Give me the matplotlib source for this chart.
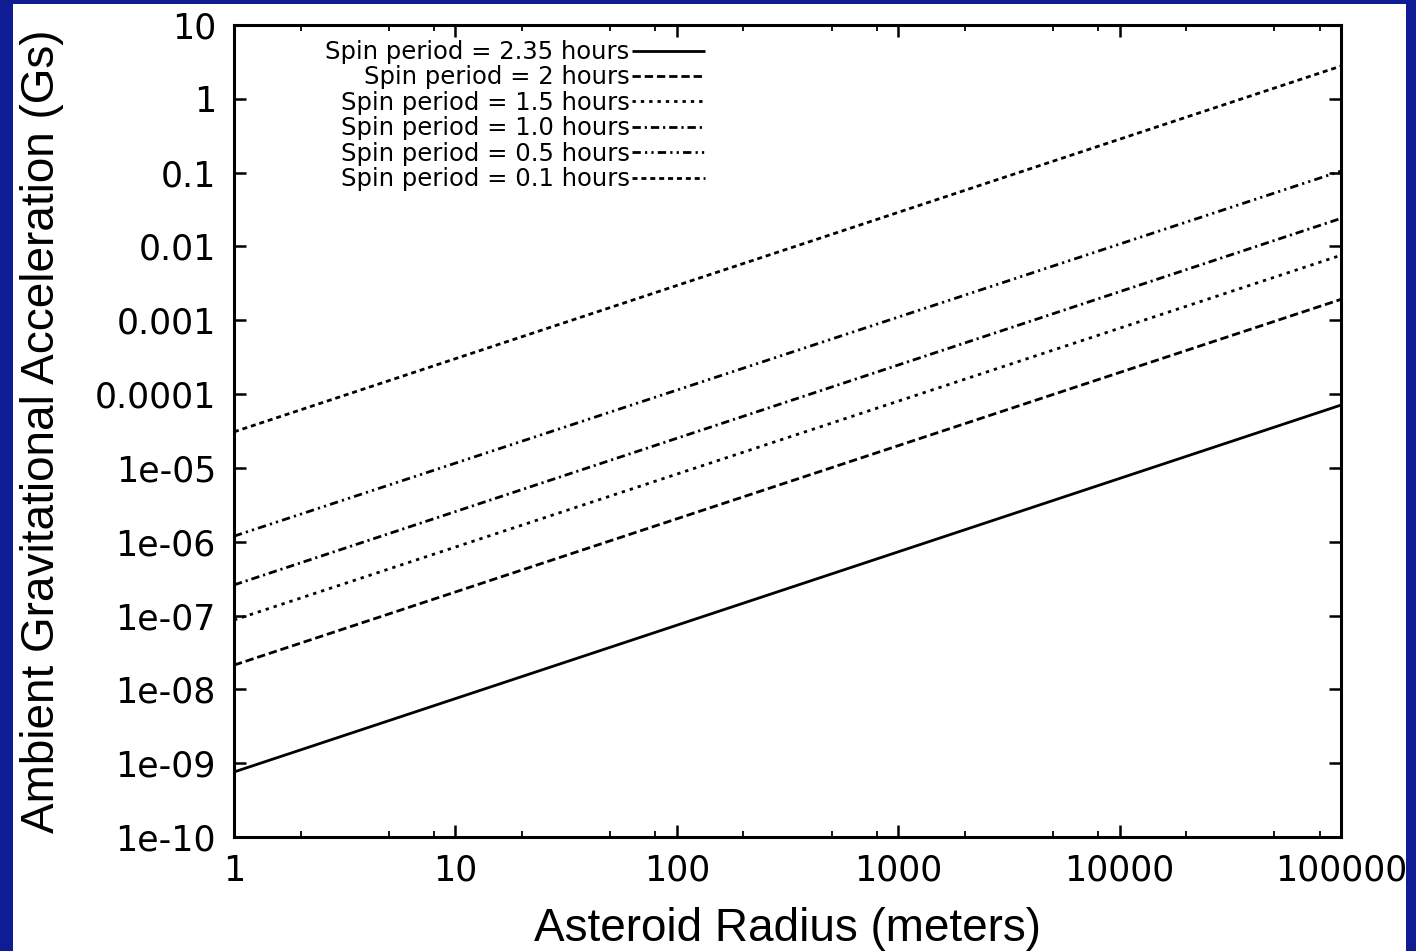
import matplotlib
matplotlib.use("Agg")
import matplotlib.pyplot as plt
from matplotlib.patches import Rectangle

# ---- data ----
radius_m = [1, 100000]
period_labels = ["Spin period = 2.35 hours", "Spin period = 2 hours",
                 "Spin period = 1.5 hours", "Spin period = 1.0 hours",
                 "Spin period = 0.5 hours", "Spin period = 0.1 hours"]
accel_p235 = [7.6e-10, 7.1e-5]
accel_p200 = [2.13e-8, 1.92e-3]
accel_p150 = [8.7e-8, 7.6e-3]
accel_p100 = [2.6e-7, 2.4e-2]
accel_p050 = [1.19e-6, 0.105]
accel_p010 = [3.08e-5, 2.78]

x_ticks = [1, 10, 100, 1000, 10000, 100000]
x_tick_labels = ["1", "10", "100", "1000", "10000", "100000"]
x_minor = [m * d for d in [1, 10, 100, 1000, 10000] for m in (2, 5, 8)]
y_ticks = [1e-10, 1e-9, 1e-8, 1e-7, 1e-6, 1e-5, 1e-4, 1e-3, 1e-2, 1e-1, 1, 10]
y_tick_labels = ["1e-10", "1e-09", "1e-08", "1e-07", "1e-06", "1e-05",
                 "0.0001", "0.001", "0.01", "0.1", "1", "10"]

series = [accel_p235, accel_p200, accel_p150, accel_p100, accel_p050, accel_p010]
dash_styles = ["-", (0, (6.0, 2.8)), (0, (2.4, 3.6)),
               (0, (6.0, 2.8, 1.6, 2.8)), (0, (6.0, 3.0, 1.6, 3.0, 1.6, 3.0)),
               (0, (3.6, 2.8))]

plt.rcParams["lines.scale_dashes"] = False
plt.rcParams["font.family"] = ["DejaVu Sans"]

fig = plt.figure(figsize=(14.16, 9.51), dpi=100)
fig.patch.set_facecolor("#0f1c94")
fig.add_artist(Rectangle((13 / 1416, 0), (1406 - 13) / 1416, (951 - 4) / 951,
                         transform=fig.transFigure, facecolor="white",
                         edgecolor="none", zorder=0))

ax = fig.add_axes([234 / 1416, 1 - 837 / 951, (1341 - 234) / 1416, (837 - 25) / 951])
ax.set_facecolor("white")

for vals, ls, lab in zip(series, dash_styles, period_labels):
    ax.plot(radius_m, vals, color="black", lw=2.0, linestyle=ls, label=lab,
            solid_capstyle="butt", dash_capstyle="butt")

ax.set_xscale("log")
ax.set_yscale("log")
ax.set_xlim(1, 100000)
ax.set_ylim(1e-10, 10)

ax.set_xticks(x_ticks)
ax.set_xticklabels(x_tick_labels)
ax.set_xticks(x_minor, minor=True)
ax.set_xticklabels([], minor=True)
ax.set_yticks(y_ticks)
ax.set_yticklabels(y_tick_labels)
ax.set_yticks([], minor=True)

ax.tick_params(axis="both", which="major", direction="in", length=8.5, width=1.8,
               top=True, right=True, labelsize=25, colors="black")
ax.tick_params(axis="x", which="minor", direction="in", length=4, width=1.3,
               top=True, bottom=True)
ax.tick_params(axis="y", which="major", pad=13)
ax.tick_params(axis="x", which="major", pad=12)

for sp in ax.spines.values():
    sp.set_linewidth(2.2)
    sp.set_color("black")

ax.set_xlabel("Asteroid Radius (meters)", family="Liberation Sans", fontsize=33,
              labelpad=14)
ax.set_ylabel("Ambient Gravitational Acceleration (Gs)", family="Liberation Sans",
              fontsize=33, labelpad=22)

leg = ax.legend(loc="upper right", bbox_to_anchor=(0.4255, 0.9815), frameon=False,
                markerfirst=False, fontsize=17.5, handlelength=3.0,
                handletextpad=0.1, labelspacing=0.06, borderpad=0,
                borderaxespad=0)
for col in leg._legend_handle_box.get_children():
    col.align = "right"

fig.savefig("out.png", dpi=100, facecolor=fig.get_facecolor())
